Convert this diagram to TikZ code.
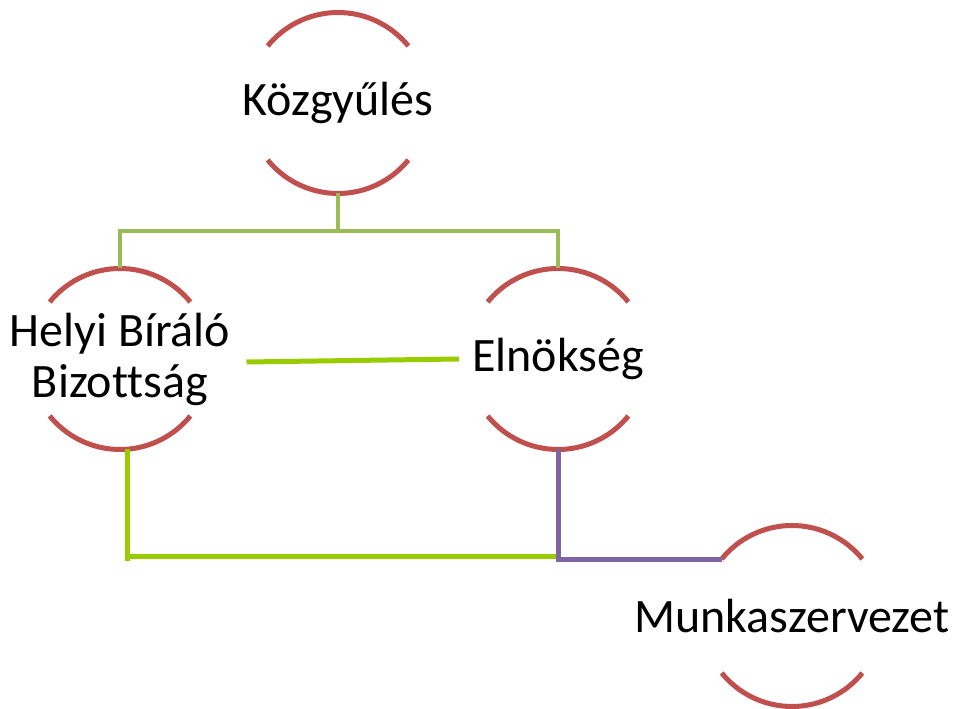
\documentclass[tikz,border=0pt]{standalone}
\usepackage{fontspec}
\setmainfont[Ligatures=NoCommon]{Carlito}
\begin{document}
\begin{tikzpicture}[x=1pt,y=1pt,
  orb/.style={circle,inner sep=0pt,outer sep=0pt,minimum size=181pt},
  lbl/.style={inner sep=0pt,align=center,font=\fontsize{48}{51}\selectfont},
  rim/.style={draw=arcred,line width=5pt},
  gline/.style={draw=olivegreen,line width=4.6pt},
  lline/.style={draw=limegreen,line width=5pt},
  pline/.style={draw=violetline,line width=5pt}]
\definecolor{arcred}{HTML}{C0504D}
\definecolor{olivegreen}{HTML}{9BBB59}
\definecolor{limegreen}{HTML}{99CC00}
\definecolor{violetline}{HTML}{8064A2}
\useasboundingbox (0,0) rectangle (953,709);
\node[orb] (k) at (338,606) {};
\node[orb] (h) at (120,350) {};
\node[orb] (e) at (558,350) {};
\node[orb] (m) at (792,93) {};
\node[lbl] (kt) at (k) {Közgyűlés};
\node[lbl] (ht) at (h) {Helyi Bíráló\\Bizottság};
\node[lbl] (et) at (e) {Elnökség};
\node[lbl] (mt) at (m) {Munkaszervezet};
\foreach \n in {k,h,e,m}{
  \draw[rim] (\n.39) arc[start angle=39,end angle=141,radius=90.5pt];
  \draw[rim] (\n.219) arc[start angle=219,end angle=321,radius=90.5pt];
}
\coordinate (gbar) at (338,478);
\draw[gline] (k.south) -- (gbar);
\draw[gline] (gbar) -| (h.north);
\draw[gline] (gbar) -| (e.north);
\draw[lline] ([xshift=36pt,yshift=-3pt]h.east) -- ([xshift=-8.5pt]e.west);
\draw[lline] ([xshift=7pt]h.south) -- ([xshift=7pt,yshift=-112pt]h.south);
\draw[lline] ([xshift=9pt,yshift=-107pt]h.south) -- ([xshift=-2pt,yshift=-107pt]e.south);
\draw[pline] (e.south) |- (m.141);
\end{tikzpicture}
\end{document}
